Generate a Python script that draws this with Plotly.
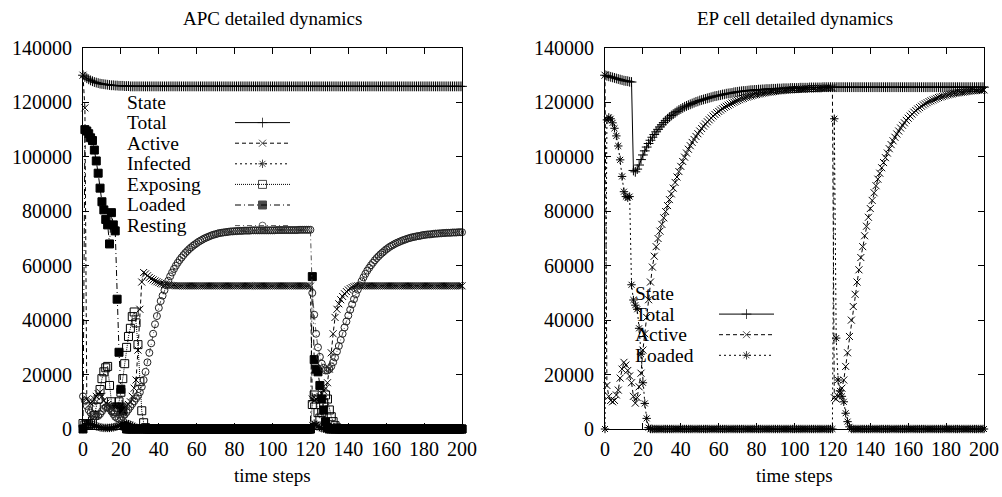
import plotly.graph_objects as go

W, H = 1002, 497

# ---------------- data (values in thousands of cells) ----------------
time_steps = list(range(201))
x_ticks = [0, 20, 40, 60, 80, 100, 120, 140, 160, 180, 200]
y_ticks = [0, 20000, 40000, 60000, 80000, 100000, 120000, 140000]
y_tick_labels = ["0", "20000", "40000", "60000", "80000", "100000", "120000", "140000"]

apc_total = [
    130, 129.4, 128.9, 128.5, 128.1, 127.8, 127.5, 127.3, 127.1, 126.9,
    126.8, 126.7, 126.6, 126.5, 126.4, 126.3, 126.3, 126.2, 126.2, 126.1,
    126.1, 126.1, 126, 126, 126, 125.9, 125.9, 125.9, 125.9, 125.9,
    125.9, 125.9, 125.9, 125.9, 125.9, 125.9, 125.9, 125.9, 125.9, 125.9,
    125.9, 125.9, 125.9, 125.9, 125.9, 125.9, 125.9, 125.9, 125.9, 125.9,
    125.9, 125.9, 125.9, 125.9, 125.9, 125.9, 125.9, 125.9, 125.9, 125.9,
    125.9, 125.9, 125.9, 125.9, 125.9, 125.9, 125.9, 125.9, 125.9, 125.9,
    125.9, 125.9, 125.9, 125.9, 125.9, 125.9, 125.9, 125.9, 125.9, 125.9,
    125.9, 125.9, 125.9, 125.9, 125.9, 125.9, 125.9, 125.9, 125.9, 125.9,
    125.9, 125.9, 125.9, 125.9, 125.9, 125.9, 125.9, 125.9, 125.9, 125.9,
    125.9, 125.9, 125.9, 125.9, 125.9, 125.9, 125.9, 125.9, 125.9, 125.9,
    125.9, 125.9, 125.9, 125.9, 125.9, 125.9, 125.9, 125.9, 125.9, 125.9,
    125.9, 125.9, 125.9, 125.9, 125.9, 125.9, 125.9, 125.9, 125.9, 125.9,
    125.9, 125.9, 125.9, 125.9, 125.9, 125.9, 125.9, 125.9, 125.9, 125.9,
    125.9, 125.9, 125.9, 125.9, 125.9, 125.9, 125.9, 125.9, 125.9, 125.9,
    125.9, 125.9, 125.9, 125.9, 125.9, 125.9, 125.9, 125.9, 125.9, 125.9,
    125.9, 125.9, 125.9, 125.9, 125.9, 125.9, 125.9, 125.9, 125.9, 125.9,
    125.9, 125.9, 125.9, 125.9, 125.9, 125.9, 125.9, 125.9, 125.9, 125.9,
    125.9, 125.9, 125.9, 125.9, 125.9, 125.9, 125.9, 125.9, 125.9, 125.9,
    125.9, 125.9, 125.9, 125.9, 125.9, 125.9, 125.9, 125.9, 125.9, 125.9,
    125.9,
]

apc_active = [
    130, 118, 11, 10, 9.5, 10, 11, 12, 13, 13.5,
    12, 10.5, 9.5, 9, 8.5, 8.5, 8.5, 8.5, 8.5, 8.5,
    8.5, 8.5, 8.5, 8.5, 9, 10, 12, 15, 18, 29,
    44, 54, 57.5, 57, 56.3, 55.7, 55.2, 54.8, 54.4, 54.1,
    53.8, 53.5, 53.3, 53.1, 53, 52.9, 52.8, 52.7, 52.7, 52.6,
    52.6, 52.6, 52.6, 52.6, 52.6, 52.6, 52.6, 52.6, 52.6, 52.6,
    52.6, 52.6, 52.6, 52.6, 52.6, 52.6, 52.6, 52.6, 52.6, 52.6,
    52.6, 52.6, 52.6, 52.6, 52.6, 52.6, 52.6, 52.6, 52.6, 52.6,
    52.6, 52.6, 52.6, 52.6, 52.6, 52.6, 52.6, 52.6, 52.6, 52.6,
    52.6, 52.6, 52.6, 52.6, 52.6, 52.6, 52.6, 52.6, 52.6, 52.6,
    52.6, 52.6, 52.6, 52.6, 52.6, 52.6, 52.6, 52.6, 52.6, 52.6,
    52.6, 52.6, 52.6, 52.6, 52.6, 52.6, 52.6, 52.6, 52.6, 52.6,
    52.5, 11, 10.5, 11, 11.5, 12, 13, 14, 15, 17,
    22, 28, 35, 41, 44, 46, 47.5, 48.7, 49.7, 50.5,
    51.1, 51.6, 52, 52.3, 52.5, 52.6, 52.6, 52.6, 52.6, 52.6,
    52.6, 52.6, 52.6, 52.6, 52.6, 52.6, 52.6, 52.6, 52.6, 52.6,
    52.6, 52.6, 52.6, 52.6, 52.6, 52.6, 52.6, 52.6, 52.6, 52.6,
    52.6, 52.6, 52.6, 52.6, 52.6, 52.6, 52.6, 52.6, 52.6, 52.6,
    52.6, 52.6, 52.6, 52.6, 52.6, 52.6, 52.6, 52.6, 52.6, 52.6,
    52.6, 52.6, 52.6, 52.6, 52.6, 52.6, 52.6, 52.6, 52.6, 52.6,
    52.6,
]

apc_infected = [
    0, 1.5, 2, 2, 1.8, 1.5, 1.2, 1, 0.8, 0.6,
    0.5, 0.4, 0.4, 0.4, 0.4, 0.5, 0.6, 0.8, 1, 1.2,
    1.5, 1.8, 2, 2, 1.8, 1.5, 1.2, 0.8, 0.5, 0.3,
    0.2, 0.1, 0, 0, 0, 0, 0, 0, 0, 0,
    0, 0, 0, 0, 0, 0, 0, 0, 0, 0,
    0, 0, 0, 0, 0, 0, 0, 0, 0, 0,
    0, 0, 0, 0, 0, 0, 0, 0, 0, 0,
    0, 0, 0, 0, 0, 0, 0, 0, 0, 0,
    0, 0, 0, 0, 0, 0, 0, 0, 0, 0,
    0, 0, 0, 0, 0, 0, 0, 0, 0, 0,
    0, 0, 0, 0, 0, 0, 0, 0, 0, 0,
    0, 0, 0, 0, 0, 0, 0, 0, 0, 0,
    0, 1.5, 2, 1.5, 1, 0.6, 0.3, 0.1, 0, 0,
    0, 0, 0, 0, 0, 0, 0, 0, 0, 0,
    0, 0, 0, 0, 0, 0, 0, 0, 0, 0,
    0, 0, 0, 0, 0, 0, 0, 0, 0, 0,
    0, 0, 0, 0, 0, 0, 0, 0, 0, 0,
    0, 0, 0, 0, 0, 0, 0, 0, 0, 0,
    0, 0, 0, 0, 0, 0, 0, 0, 0, 0,
    0, 0, 0, 0, 0, 0, 0, 0, 0, 0,
    0,
]

apc_exposing = [
    2, 1.5, 1.5, 1.5, 2, 3, 5, 8, 11, 14.5,
    18.5, 21, 22.5, 23, 16, 10, 7, 6.5, 8, 10,
    13.5, 18.5, 24, 30, 34, 37, 41.3, 43, 39, 31,
    17.4, 6.7, 2.3, 0.5, 0, 0, 0, 0, 0, 0,
    0, 0, 0, 0, 0, 0, 0, 0, 0, 0,
    0, 0, 0, 0, 0, 0, 0, 0, 0, 0,
    0, 0, 0, 0, 0, 0, 0, 0, 0, 0,
    0, 0, 0, 0, 0, 0, 0, 0, 0, 0,
    0, 0, 0, 0, 0, 0, 0, 0, 0, 0,
    0, 0, 0, 0, 0, 0, 0, 0, 0, 0,
    0, 0, 0, 0, 0, 0, 0, 0, 0, 0,
    0, 0, 0, 0, 0, 0, 0, 0, 0, 0,
    0, 9, 12.5, 11, 6, 4, 6, 9.5, 12.5, 11,
    7, 4.5, 2.7, 1.2, 0.4, 0, 0, 0, 0, 0,
    0, 0, 0, 0, 0, 0, 0, 0, 0, 0,
    0, 0, 0, 0, 0, 0, 0, 0, 0, 0,
    0, 0, 0, 0, 0, 0, 0, 0, 0, 0,
    0, 0, 0, 0, 0, 0, 0, 0, 0, 0,
    0, 0, 0, 0, 0, 0, 0, 0, 0, 0,
    0, 0, 0, 0, 0, 0, 0, 0, 0, 0,
    0,
]

apc_loaded = [
    0, 110, 109.5, 108.5, 107, 106, 102.5, 98.5, 94, 88.5,
    83.5, 80.5, 77, 75, 68, 79.5, 75, 72.8, 47.7, 28.2,
    14.6, 6.7, 1.1, 0, 0, 0, 0, 0, 0, 0,
    0, 0, 0, 0, 0, 0, 0, 0, 0, 0,
    0, 0, 0, 0, 0, 0, 0, 0, 0, 0,
    0, 0, 0, 0, 0, 0, 0, 0, 0, 0,
    0, 0, 0, 0, 0, 0, 0, 0, 0, 0,
    0, 0, 0, 0, 0, 0, 0, 0, 0, 0,
    0, 0, 0, 0, 0, 0, 0, 0, 0, 0,
    0, 0, 0, 0, 0, 0, 0, 0, 0, 0,
    0, 0, 0, 0, 0, 0, 0, 0, 0, 0,
    0, 0, 0, 0, 0, 0, 0, 0, 0, 0,
    0, 56, 25.5, 22, 21, 16, 11, 7, 2.7, 0.5,
    0, 0, 0, 0, 0, 0, 0, 0, 0, 0,
    0, 0, 0, 0, 0, 0, 0, 0, 0, 0,
    0, 0, 0, 0, 0, 0, 0, 0, 0, 0,
    0, 0, 0, 0, 0, 0, 0, 0, 0, 0,
    0, 0, 0, 0, 0, 0, 0, 0, 0, 0,
    0, 0, 0, 0, 0, 0, 0, 0, 0, 0,
    0, 0, 0, 0, 0, 0, 0, 0, 0, 0,
    0,
]

apc_resting = [
    12, 10.5, 8.5, 7, 6, 5.2, 4.8, 4.6, 4.8, 5.5,
    6.5, 7.5, 8, 8, 7.5, 6.5, 5.5, 4.5, 4, 3.8,
    4, 4.5, 5.3, 6.2, 7.2, 8.2, 9.2, 10.2, 11.2, 12.2,
    13.5, 15.5, 18, 21, 24.5, 28, 31.5, 35, 38.5, 41.5,
    44.5, 47, 49, 51, 52.8, 54.5, 56.1, 57.5, 58.8, 60,
    61.1, 62.1, 63, 63.9, 64.7, 65.4, 66.1, 66.7, 67.3, 67.8,
    68.3, 68.8, 69.2, 69.6, 70, 70.3, 70.6, 70.9, 71.2, 71.4,
    71.6, 71.8, 72, 72.1, 72.2, 72.3, 72.4, 72.5, 72.6, 72.6,
    72.7, 72.7, 72.8, 72.8, 72.8, 72.9, 72.9, 72.9, 72.9, 73,
    73, 73, 73, 73, 73, 73, 73, 73, 73, 73,
    73, 73, 73.1, 73.1, 73.1, 73.1, 73.1, 73.1, 73.1, 73.1,
    73.1, 73.1, 73.1, 73.1, 73.2, 73.2, 73.2, 73.2, 73.2, 73.2,
    73.2, 50, 42, 35, 30, 26.5, 24, 22.5, 21.5, 21.5,
    22, 23, 24.5, 26.3, 28.5, 30.5, 32.7, 35, 37.3, 39.5,
    41.7, 43.8, 45.8, 47.7, 49.5, 51.2, 52.8, 54.3, 55.7, 57,
    58.2, 59.2, 60.2, 61.1, 62, 62.8, 63.5, 64.2, 64.8, 65.4,
    66, 66.5, 67, 67.4, 67.8, 68.2, 68.5, 68.8, 69.1, 69.4,
    69.6, 69.9, 70.1, 70.3, 70.5, 70.6, 70.8, 70.9, 71, 71.2,
    71.3, 71.4, 71.5, 71.5, 71.6, 71.7, 71.8, 71.8, 71.9, 71.9,
    72, 72, 72.1, 72.1, 72.1, 72.2, 72.2, 72.2, 72.3, 72.3,
    72.3,
]

ep_total = [
    130, 129.8, 129.6, 129.4, 129.2, 129, 128.8, 128.6, 128.4, 128.2,
    128, 127.9, 127.8, 127.6, 127.5, 95, 94.5, 95.5, 97, 99,
    100.7, 102.2, 103.6, 104.9, 106.1, 107.2, 108.2, 109.2, 110.1, 111,
    111.8, 112.6, 113.3, 114, 114.6, 115.2, 115.7, 116.2, 116.7, 117.2,
    117.6, 118, 118.4, 118.7, 119, 119.3, 119.6, 119.9, 120.2, 120.4,
    120.7, 120.9, 121.1, 121.3, 121.5, 121.7, 121.9, 122.1, 122.3, 122.4,
    122.6, 122.7, 122.9, 123, 123.2, 123.3, 123.4, 123.5, 123.7, 123.8,
    123.9, 124, 124.1, 124.2, 124.2, 124.3, 124.4, 124.5, 124.5, 124.6,
    124.6, 124.7, 124.7, 124.8, 124.8, 124.9, 124.9, 124.9, 125, 125,
    125, 125.1, 125.1, 125.1, 125.2, 125.2, 125.2, 125.2, 125.3, 125.3,
    125.3, 125.3, 125.3, 125.4, 125.4, 125.4, 125.4, 125.4, 125.5, 125.5,
    125.5, 125.5, 125.5, 125.5, 125.5, 125.6, 125.6, 125.6, 125.6, 125.6,
    125.6, 125.6, 125.6, 125.6, 125.6, 125.6, 125.6, 125.6, 125.6, 125.6,
    125.6, 125.6, 125.6, 125.6, 125.6, 125.6, 125.6, 125.6, 125.6, 125.6,
    125.6, 125.6, 125.6, 125.6, 125.6, 125.6, 125.6, 125.6, 125.6, 125.6,
    125.6, 125.6, 125.6, 125.6, 125.6, 125.6, 125.6, 125.6, 125.6, 125.6,
    125.6, 125.6, 125.6, 125.6, 125.6, 125.6, 125.6, 125.6, 125.6, 125.6,
    125.6, 125.6, 125.6, 125.6, 125.6, 125.6, 125.6, 125.6, 125.6, 125.6,
    125.6, 125.6, 125.6, 125.6, 125.6, 125.6, 125.6, 125.6, 125.6, 125.6,
    125.6, 125.6, 125.6, 125.6, 125.6, 125.6, 125.6, 125.6, 125.6, 125.6,
    125.6,
]

ep_active = [
    130, 16, 12, 10.5, 10, 10.5, 12.5, 14.3, 18.7, 22,
    24.5, 23.5, 21.5, 19.5, 17, 12, 9.5, 11.5, 15.5, 20.5,
    29, 35, 41, 47.5, 54, 59.5, 63.5, 67, 70, 72.7,
    75.2, 77.6, 79.9, 82.1, 84.3, 86.4, 88.5, 90.6, 92.6, 94.6,
    96.5, 98.3, 99.9, 101.4, 102.8, 104.1, 105.3, 106.4, 107.5, 108.5,
    109.5, 110.4, 111.3, 112.1, 112.9, 113.6, 114.3, 115, 115.6, 116.2,
    116.7, 117.2, 117.7, 118.2, 118.6, 119, 119.4, 119.8, 120.1, 120.4,
    120.7, 121, 121.3, 121.5, 121.8, 122, 122.2, 122.4, 122.6, 122.8,
    122.9, 123.1, 123.2, 123.4, 123.5, 123.6, 123.7, 123.8, 123.9, 124,
    124.1, 124.2, 124.3, 124.3, 124.4, 124.5, 124.5, 124.6, 124.6, 124.7,
    124.7, 124.8, 124.8, 124.9, 124.9, 124.9, 125, 125, 125, 125.1,
    125.1, 125.1, 125.1, 125.2, 125.2, 125.2, 125.2, 125.3, 125.3, 125.3,
    125.3, 11.5, 11, 12, 13, 15, 18, 23, 28, 34,
    40, 45, 49.5, 54, 58.5, 63, 67, 71, 74.5, 77.8,
    81, 84, 86.8, 89.4, 91.8, 94, 96, 97.9, 99.7, 101.4,
    103, 104.5, 105.9, 107.2, 108.4, 109.5, 110.6, 111.6, 112.5, 113.4,
    114.2, 115, 115.7, 116.4, 117, 117.6, 118.1, 118.6, 119.1, 119.5,
    119.9, 120.3, 120.6, 120.9, 121.2, 121.5, 121.8, 122, 122.2, 122.4,
    122.6, 122.8, 123, 123.1, 123.3, 123.4, 123.5, 123.6, 123.7, 123.8,
    123.9, 124, 124.1, 124.2, 124.3, 124.3, 124.4, 124.5, 124.5, 124.6,
    124.6,
]

ep_loaded = [
    0, 113.6, 114.5, 114, 112.5, 110.5, 107.7, 104, 98.9, 92.8,
    87.2, 85.4, 85, 85.4, 53, 47.4, 45.5, 44, 37, 27.5,
    17, 9.4, 3.9, 0.5, 0, 0, 0, 0, 0, 0,
    0, 0, 0, 0, 0, 0, 0, 0, 0, 0,
    0, 0, 0, 0, 0, 0, 0, 0, 0, 0,
    0, 0, 0, 0, 0, 0, 0, 0, 0, 0,
    0, 0, 0, 0, 0, 0, 0, 0, 0, 0,
    0, 0, 0, 0, 0, 0, 0, 0, 0, 0,
    0, 0, 0, 0, 0, 0, 0, 0, 0, 0,
    0, 0, 0, 0, 0, 0, 0, 0, 0, 0,
    0, 0, 0, 0, 0, 0, 0, 0, 0, 0,
    0, 0, 0, 0, 0, 0, 0, 0, 0, 0,
    0, 114, 33.4, 18, 14, 12, 10, 5.8, 2.7, 0.8,
    0, 0, 0, 0, 0, 0, 0, 0, 0, 0,
    0, 0, 0, 0, 0, 0, 0, 0, 0, 0,
    0, 0, 0, 0, 0, 0, 0, 0, 0, 0,
    0, 0, 0, 0, 0, 0, 0, 0, 0, 0,
    0, 0, 0, 0, 0, 0, 0, 0, 0, 0,
    0, 0, 0, 0, 0, 0, 0, 0, 0, 0,
    0, 0, 0, 0, 0, 0, 0, 0, 0, 0,
    0,
]

apc_series = [("Total", apc_total), ("Active", apc_active), ("Infected", apc_infected),
              ("Exposing", apc_exposing), ("Loaded", apc_loaded), ("Resting", apc_resting)]
ep_series = [("Total", ep_total), ("Active", ep_active), ("Loaded", ep_loaded)]

for name, arr in apc_series + ep_series:
    assert len(arr) == len(time_steps), (name, len(arr))

# ---------------- styles (gnuplot line types 1..6, assigned in plot order) ----------------
FONT = "Liberation Serif"
FS = 20
KEY_FS = 19.5
LINETYPES = [
    dict(dash="solid", symbol="cross-thin", color="black", lcolor="black", size=7),
    dict(dash="4px,3px", symbol="x-thin", color="black", lcolor="black", size=7),
    dict(dash="2px,3px", symbol="asterisk", color="black", lcolor="black", size=7),
    dict(dash="1px,1px", symbol="square-open", color="black", lcolor="black", size=8),
    dict(dash="6px,3px,1px,3px", symbol="square", color="black", lcolor="black", size=8),
    dict(dash="5px,3px,1px,3px", symbol="circle-open", color="#222222", lcolor="#555555", size=7),
]


def marker(s, size=None):
    return dict(symbol=s["symbol"], size=s["size"] if size is None else size, color=s["color"],
                line=dict(color=s["color"], width=1))


fig = go.Figure()

for (series, xa, ya) in [(apc_series, "x", "y"), (ep_series, "x2", "y2")]:
    for i, (name, arr) in enumerate(series):
        s = LINETYPES[i]
        fig.add_trace(go.Scatter(
            x=time_steps, y=[v * 1000 for v in arr], xaxis=xa, yaxis=ya,
            mode="lines+markers", name=name, showlegend=False, cliponaxis=False,
            line=dict(color=s["lcolor"], width=1, dash=s["dash"]),
            marker=marker(s), hoverinfo="skip"))


# ---------------- gnuplot-like key (drawn on an overlay pixel axis) ----------------
def add_key(names, text_x, line_x0, line_x1, row0, dy):
    ann = [dict(text="State", x=text_x / W, y=1 - row0 / H, xref="paper", yref="paper",
                xanchor="left", yanchor="middle", showarrow=False,
                font=dict(family=FONT, size=KEY_FS, color="black"))]
    for i, name in enumerate(names):
        ry = row0 + dy * (i + 1)
        ann.append(dict(text=name, x=text_x / W, y=1 - ry / H, xref="paper", yref="paper",
                        xanchor="left", yanchor="middle", showarrow=False,
                        font=dict(family=FONT, size=KEY_FS, color="black")))
        s = LINETYPES[i]
        fig.add_trace(go.Scatter(
            x=[line_x0, (line_x0 + line_x1) / 2, line_x1], y=[ry, ry, ry],
            xaxis="x3", yaxis="y3", mode="lines+markers", showlegend=False,
            cliponaxis=False, hoverinfo="skip",
            line=dict(color=s["lcolor"], width=1, dash=s["dash"]),
            marker=dict(symbol=s["symbol"], size=[0, s["size"], 0], color=s["color"],
                        line=dict(color=s["color"], width=1))))
    return ann


annotations = []
annotations += add_key([n for n, _ in apc_series], 125, 235, 290, 102, 20.6)
annotations += add_key([n for n, _ in ep_series], 633, 719, 774, 293.5, 20.6)

# titles
for cx, title in [((83 + 462) / 2, "APC detailed dynamics"), ((605 + 984) / 2, "EP cell detailed dynamics")]:
    annotations.append(dict(text=title, x=cx / W, y=1 - 18 / H, xref="paper", yref="paper",
                            xanchor="center", yanchor="middle", showarrow=False,
                            font=dict(family=FONT, size=19, color="black")))
    annotations.append(dict(text="time steps", x=cx / W, y=1 - 475 / H, xref="paper", yref="paper",
                            xanchor="center", yanchor="middle", showarrow=False,
                            font=dict(family=FONT, size=19, color="black")))

axis_common = dict(showgrid=False, zeroline=False, showline=True, linecolor="black", linewidth=1,
                   mirror="ticks", ticks="inside", ticklen=6, tickwidth=1, tickcolor="black",
                   tickfont=dict(family=FONT, size=FS, color="black"), automargin=False,
                   fixedrange=True)

ydom = [1 - 429 / H, 1 - 48 / H]
fig.update_layout(
    width=W, height=H, margin=dict(l=0, r=0, t=0, b=0),
    paper_bgcolor="white", plot_bgcolor="rgba(0,0,0,0)",
    font=dict(family=FONT, size=FS, color="black"),
    showlegend=False,
    xaxis=dict(domain=[83 / W, 462 / W], range=[0, 200], tickvals=x_ticks, anchor="y",
               ticklabelstandoff=2, **axis_common),
    yaxis=dict(domain=ydom, range=[0, 140000], tickvals=y_ticks, ticktext=y_tick_labels,
               anchor="x", ticklabelstandoff=6, **axis_common),
    xaxis2=dict(domain=[605 / W, 984 / W], range=[0, 200], tickvals=x_ticks, anchor="y2",
                ticklabelstandoff=2, **axis_common),
    yaxis2=dict(domain=ydom, range=[0, 140000], tickvals=y_ticks, ticktext=y_tick_labels,
                anchor="x2", ticklabelstandoff=6, **axis_common),
    xaxis3=dict(domain=[0, 1], range=[0, W], visible=False, anchor="y3", fixedrange=True),
    yaxis3=dict(domain=[0, 1], range=[H, 0], visible=False, anchor="x3", fixedrange=True),
    annotations=annotations,
)

fig.write_html("out.html")
